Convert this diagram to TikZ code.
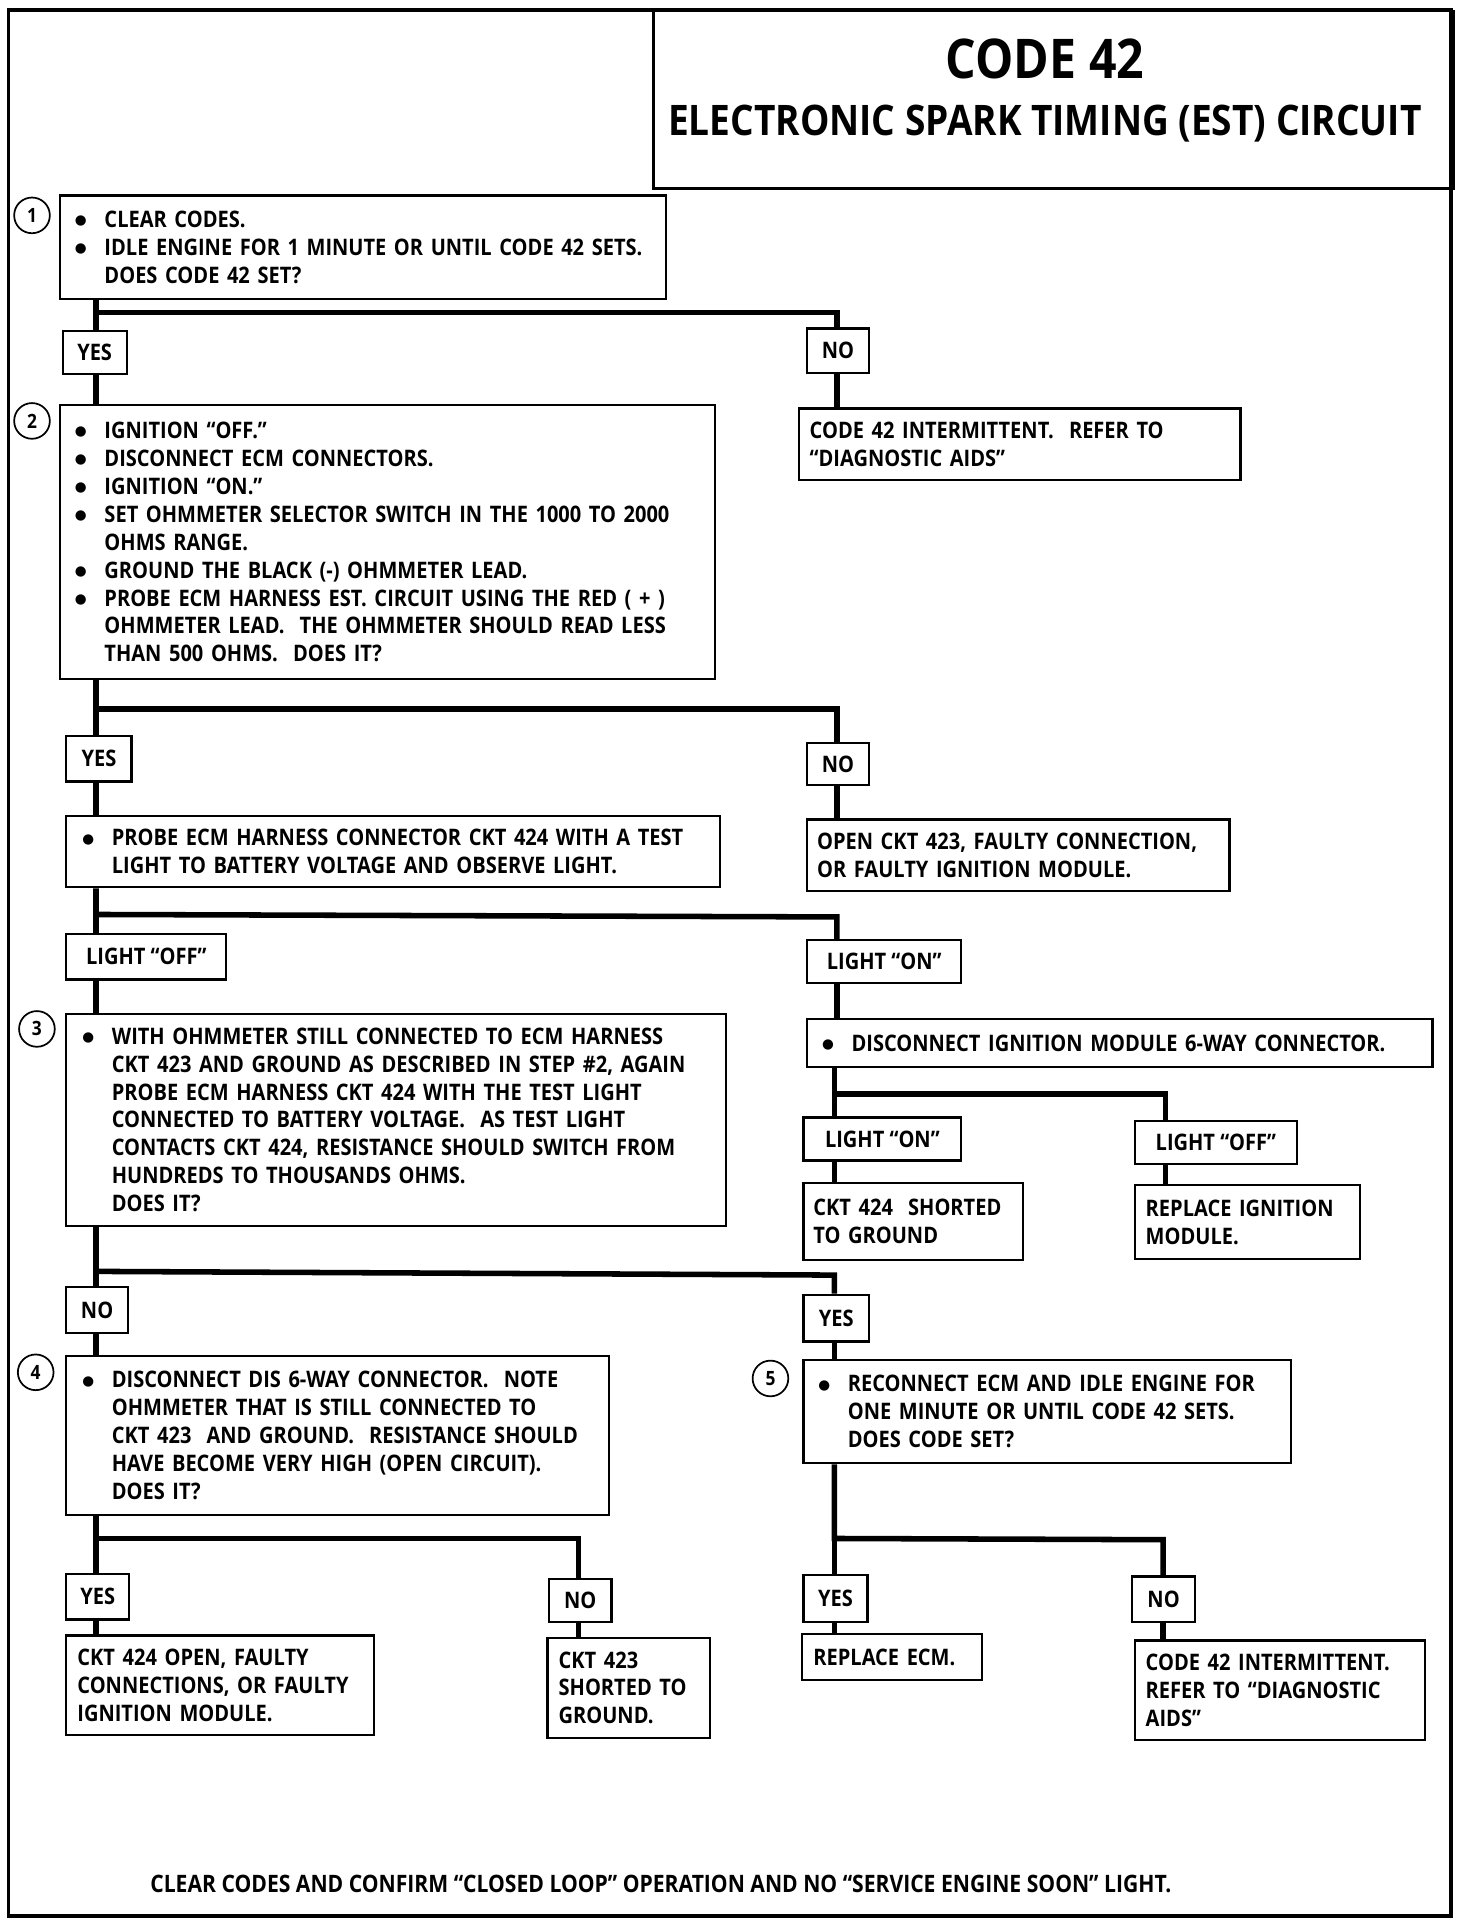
\documentclass[tikz,border=0pt]{standalone}
\usepackage{fontspec}
\setmainfont{Open Sans}[FakeStretch=0.88]
\newfontfamily\dejavu{DejaVu Sans}
\newcommand\bul{\makebox[24pt][l]{\raisebox{2.2pt}{\dejavu\fontsize{11}{11}\selectfont ●}}}
\newcommand\ind{\hspace*{24pt}}
\tikzset{
  txt/.style={font=\bfseries\fontsize{18.5}{22.7}\selectfont},
  frame/.style={txt, draw, line width=1.8pt, inner ysep=0pt, anchor=north west, align=left},
  lbl/.style={txt, draw, line width=1.8pt, inner sep=0pt, anchor=north west, align=center},
  conn/.style={line width=4.5pt, line join=miter},
  num/.style={circle, draw, line width=1.4pt, minimum size=29pt, inner sep=0pt, font=\bfseries\fontsize{16}{16}\selectfont}
}
\begin{document}
\begin{tikzpicture}[x=1pt,y=-1pt]
\useasboundingbox (0,0) rectangle (1183,1560);
\draw[line width=3pt] (7,8) rectangle (1179,1557);

% title
\node[draw, line width=2pt, anchor=north west, minimum width=650pt, minimum height=144pt, inner sep=0pt] (title) at (530,8) {};
\node[font=\bfseries\fontsize{44.5}{44.5}\selectfont] (t1) at (849,48) {CODE 42};
\node[font=\bfseries\fontsize{34.2}{34.2}\selectfont] (t2) at (849,100) {ELECTRONIC SPARK TIMING (EST) CIRCUIT};

% step numbers
\node[num] (c1) at (26,175) {1};
\node[num] (c2) at (26,342) {2};
\node[num] (c3) at (30,836) {3};
\node[num] (c4) at (29,1115) {4};
\node[num] (c5) at (626,1120) {5};

% main boxes
\node[frame, inner xsep=12pt, text width=468pt, minimum height=84pt] (b1) at (48,158)
 {\bul CLEAR CODES.\\ \bul IDLE ENGINE FOR 1 MINUTE OR UNTIL CODE 42 SETS.\\ \ind DOES CODE 42 SET?};
\node[frame, inner xsep=12pt, text width=508pt, minimum height=223pt] (b2) at (48,328)
 {\bul IGNITION “OFF.”\\ \bul DISCONNECT ECM CONNECTORS.\\ \bul IGNITION “ON.”\\
  \bul SET OHMMETER SELECTOR SWITCH IN THE 1000 TO 2000\\ \ind OHMS RANGE.\\
  \bul GROUND THE BLACK (-) OHMMETER LEAD.\\
  \bul PROBE ECM HARNESS EST. CIRCUIT USING THE RED ( + )\\
  \ind OHMMETER LEAD.\ \ THE OHMMETER SHOULD READ LESS\\ \ind THAN 500 OHMS.\ \ DOES IT?};
\node[frame, inner xsep=13pt, text width=505pt, minimum height=58pt] (bp) at (53,662)
 {\bul PROBE ECM HARNESS CONNECTOR CKT 424 WITH A TEST\\ \ind LIGHT TO BATTERY VOLTAGE AND OBSERVE LIGHT.};
\node[frame, inner xsep=13pt, text width=510pt, minimum height=172pt] (b3) at (53,823)
 {\bul WITH OHMMETER STILL CONNECTED TO ECM HARNESS\\
  \ind CKT 423 AND GROUND AS DESCRIBED IN STEP \#2, AGAIN\\
  \ind PROBE ECM HARNESS CKT 424 WITH THE TEST LIGHT\\
  \ind CONNECTED TO BATTERY VOLTAGE.\ \ AS TEST LIGHT\\
  \ind CONTACTS CKT 424, RESISTANCE SHOULD SWITCH FROM\\
  \ind HUNDREDS TO THOUSANDS OHMS.\\ \ind DOES IT?};
\node[frame, inner xsep=12pt, text width=484pt, minimum height=39pt] (bd) at (655,827)
 {\bul DISCONNECT IGNITION MODULE 6-WAY CONNECTOR.};
\node[frame, inner xsep=13pt, text width=415pt, minimum height=129pt] (b4) at (53,1101)
 {\bul DISCONNECT DIS 6-WAY CONNECTOR.\ \ NOTE\\
  \ind OHMMETER THAT IS STILL CONNECTED TO\\
  \ind CKT 423\ \ AND GROUND.\ \ RESISTANCE SHOULD\\
  \ind HAVE BECOME VERY HIGH (OPEN CIRCUIT).\\ \ind DOES IT?};
\node[frame, inner xsep=12pt, text width=372pt, minimum height=84pt] (b5) at (652,1104)
 {\bul RECONNECT ECM AND IDLE ENGINE FOR\\ \ind ONE MINUTE OR UNTIL CODE 42 SETS.\\ \ind DOES CODE SET?};

% result boxes
\node[frame, inner xsep=9pt, text width=341pt, minimum height=58pt] (r1) at (648,331)
 {CODE 42 INTERMITTENT.\ \ REFER TO\\ “DIAGNOSTIC AIDS”};
\node[frame, inner xsep=8pt, text width=327pt, minimum height=58pt] (r2) at (655,665)
 {OPEN CKT 423, FAULTY CONNECTION,\\ OR FAULTY IGNITION MODULE.};
\node[frame, inner xsep=8pt, text width=162pt, minimum height=63pt] (r3) at (652,960)
 {CKT 424\ \ SHORTED\\ TO GROUND};
\node[frame, inner xsep=9pt, text width=165pt, minimum height=60pt] (r4) at (921,962)
 {REPLACE IGNITION\\ MODULE.};
\node[frame, inner xsep=9pt, text width=232pt, minimum height=81pt] (r5) at (53,1328)
 {CKT 424 OPEN, FAULTY\\ CONNECTIONS, OR FAULTY\\ IGNITION MODULE.};
\node[frame, inner xsep=9pt, text width=114pt, minimum height=81pt] (r6) at (444,1330)
 {CKT 423\\ SHORTED TO\\ GROUND.};
\node[frame, inner xsep=9pt, text width=128pt, minimum height=37pt] (r7) at (651,1327)
 {REPLACE ECM.};
\node[frame, inner xsep=9pt, text width=218pt, minimum height=81pt] (r8) at (921,1332)
 {CODE 42 INTERMITTENT.\\ REFER TO “DIAGNOSTIC\\ AIDS”};

% answer labels
\node[lbl, minimum width=52pt, minimum height=35pt] (y1) at (50,268) {YES};
\node[lbl, minimum width=50pt, minimum height=36pt] (n1) at (655,266) {NO};
\node[lbl, minimum width=53pt, minimum height=37pt] (y2) at (53,597) {YES};
\node[lbl, minimum width=50pt, minimum height=34pt] (n2) at (655,603) {NO};
\node[lbl, minimum width=130pt, minimum height=37pt] (lf1) at (53,758) {LIGHT “OFF”};
\node[lbl, minimum width=125pt, minimum height=35pt] (ln1) at (655,763) {LIGHT “ON”};
\node[lbl, minimum width=128pt, minimum height=35pt] (ln2) at (652,907) {LIGHT “ON”};
\node[lbl, minimum width=132pt, minimum height=35pt] (lf2) at (921,910) {LIGHT “OFF”};
\node[lbl, minimum width=50pt, minimum height=37pt] (n3) at (53,1045) {NO};
\node[lbl, minimum width=53pt, minimum height=38pt] (y3) at (652,1051) {YES};
\node[lbl, minimum width=51pt, minimum height=37pt] (y4) at (53,1278) {YES};
\node[lbl, minimum width=51pt, minimum height=35pt] (n4) at (445,1282) {NO};
\node[lbl, minimum width=52pt, minimum height=38pt] (y5) at (652,1279) {YES};
\node[lbl, minimum width=51pt, minimum height=37pt] (n5) at (919,1280) {NO};

% junctions
\coordinate (j1) at (78,254);   \coordinate (k1) at (680,254);
\coordinate (j2) at (78,576);   \coordinate (k2) at (680,576);
\coordinate (j3) at (78,743);   \coordinate (k3) at (680,745);
\coordinate (j4) at (678,889);  \coordinate (k4) at (947,889);
\coordinate (j5) at (78,1033);  \coordinate (k5) at (678,1036);
\coordinate (j6) at (78,1250);  \coordinate (k6) at (470,1250);
\coordinate (j7) at (678,1250); \coordinate (k7) at (945,1251);

% connectors
\draw[conn] (b1.south -| j1) -- (j1) -- (k1) -- (n1.north -| k1);
\draw[conn] (j1) -- (y1.north -| j1);
\draw[conn] (y1.south -| j1) -- (b2.north -| j1);
\draw[conn] (n1.south -| k1) -- (r1.north -| k1);

\draw[conn] (b2.south -| j2) -- (j2) -- (k2) -- (n2.north -| k2);
\draw[conn] (j2) -- (y2.north -| j2);
\draw[conn] (y2.south -| j2) -- (bp.north -| j2);
\draw[conn] (n2.south -| k2) -- (r2.north -| k2);

\draw[conn] (bp.south -| j3) -- (j3) -- (k3) -- (ln1.north -| k3);
\draw[conn] (j3) -- (lf1.north -| j3);
\draw[conn] (lf1.south -| j3) -- (b3.north -| j3);
\draw[conn] (ln1.south -| k3) -- (bd.north -| k3);

\draw[conn] (bd.south -| j4) -- (j4) -- (k4) -- (lf2.north -| k4);
\draw[conn] (j4) -- (ln2.north -| j4);
\draw[conn] (ln2.south -| j4) -- (r3.north -| j4);
\draw[conn] (lf2.south -| k4) -- (r4.north -| k4);

\draw[conn] (b3.south -| j5) -- (j5) -- (k5) -- (y3.north -| k5);
\draw[conn] (j5) -- (n3.north -| j5);
\draw[conn] (n3.south -| j5) -- (b4.north -| j5);
\draw[conn] (y3.south -| k5) -- (b5.north -| k5);

\draw[conn] (b4.south -| j6) -- (j6) -- (k6) -- (n4.north -| k6);
\draw[conn] (j6) -- (y4.north -| j6);
\draw[conn] (y4.south -| j6) -- (r5.north -| j6);
\draw[conn] (n4.south -| k6) -- (r6.north -| k6);

\draw[conn] (b5.south -| j7) -- (j7) -- (k7) -- (n5.north -| k7);
\draw[conn] (j7) -- (y5.north -| j7);
\draw[conn] (y5.south -| j7) -- (r7.north -| j7);
\draw[conn] (n5.south -| k7) -- (r8.north -| k7);

% footer
\node[font=\bfseries\fontsize{19.5}{22.7}\selectfont] (foot) at (537,1531) {CLEAR CODES AND CONFIRM “CLOSED LOOP” OPERATION AND NO “SERVICE ENGINE SOON” LIGHT.};
\end{tikzpicture}
\end{document}
